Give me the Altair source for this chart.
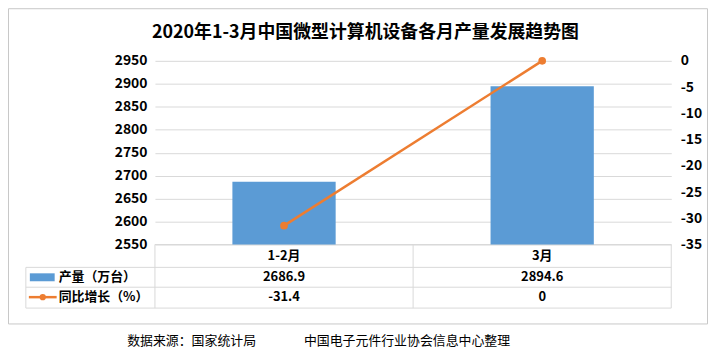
import altair as alt
import pandas as pd

cats = ["1-2月", "3月"]
output = [2686.9, 2894.6]
yoy = [-31.4, 0.0]
output_text = ["2686.9", "2894.6"]
yoy_text = ["-31.4", "0"]
left_ticks = [2550, 2600, 2650, 2700, 2750, 2800, 2850, 2900, 2950]
right_ticks = [-35, -30, -25, -20, -15, -10, -5, 0]
series_names = ["产量（万台）", "同比增长（%）"]
title_text = "2020年1-3月中国微型计算机设备各月产量发展趋势图"
source_1 = "数据来源：国家统计局"
source_2 = "中国电子元件行业协会信息中心整理"

df = pd.DataFrame({"cat": cats, "output": output, "yoy": yoy,
                   "out_t": output_text, "yoy_t": yoy_text})

FONT = "Noto Sans CJK SC"
BLUE = "#5B9BD5"
ORANGE = "#ED7D31"
GRID = "#D9D9D9"
BORDER = "#C8C8C8"
W, H = 520, 185

xenc = alt.X("cat:N", sort=cats,
             scale=alt.Scale(paddingInner=0.6, paddingOuter=0.3), axis=None)
yl_scale = alt.Scale(domain=[2550, 2950], nice=False, zero=False)
yr_scale = alt.Scale(domain=[-35, 0], nice=False, zero=False)

base = alt.Chart(df)

bars = base.mark_bar(color=BLUE).encode(
    x=xenc,
    y=alt.Y("output:Q", scale=yl_scale,
            axis=alt.Axis(values=left_ticks, format="d", grid=True, gridColor=GRID,
                          ticks=False, domain=False, labelFontSize=14,
                          labelFontWeight="bold", labelPadding=8, title=None,
                          labelFont=FONT, labelColor="#000")),
    y2=alt.datum(2550),
)

line = base.mark_line(color=ORANGE, strokeWidth=2.5).encode(
    x=xenc,
    y=alt.Y("yoy:Q", scale=yr_scale,
            axis=alt.Axis(orient="right", values=right_ticks, labelExpr="'' + datum.value",
                          grid=False, ticks=False, domain=False, labelFontSize=14,
                          labelFontWeight="bold", labelPadding=9, title=None,
                          labelFont=FONT, labelColor="#000")),
)
points = base.mark_point(filled=True, color=ORANGE, size=60, opacity=1).encode(
    x=xenc, y=alt.Y("yoy:Q", scale=yr_scale, axis=None))

txt = dict(font=FONT, fontSize=13, fontWeight="bold", color="#000")
hdr = base.mark_text(**txt).encode(x=xenc, y=alt.value(197), text="cat:N")
row1 = base.mark_text(**txt).encode(x=xenc, y=alt.value(218), text="out_t:N")
row2 = base.mark_text(**txt).encode(x=xenc, y=alt.value(238), text="yoy_t:N")

one = alt.Data(values=[{"k": 1}])


def label(t, x, y, **kw):
    return alt.Chart(one).mark_text(text=t, **kw).encode(x=alt.value(x), y=alt.value(y))


lab1 = label(series_names[0], -97, 218, align="left", **txt)
lab2 = label(series_names[1], -97, 238, align="left", **txt)

sym_rect = alt.Chart(one).mark_rect(color=BLUE).encode(
    x=alt.value(-126), x2=alt.value(-101), y=alt.value(214), y2=alt.value(222))
sym_line = alt.Chart(one).mark_rule(color=ORANGE, strokeWidth=2.5).encode(
    x=alt.value(-127), x2=alt.value(-99), y=alt.value(238))
sym_dot = alt.Chart(one).mark_point(filled=True, color=ORANGE, size=40, opacity=1).encode(
    x=alt.value(-113), y=alt.value(238))

segs = [
    (0, W, H, H), (-130, W, 208, 208), (-130, W, 228, 228), (-130, W, 249, 249),
    (-130, -130, 208, 249), (0, 0, H, 249), (260, 260, H, 249), (W, W, H, 249),
]
rules = [alt.Chart(one).mark_rule(color=GRID, strokeWidth=1).encode(
    x=alt.value(a), x2=alt.value(b), y=alt.value(c), y2=alt.value(d)) for a, b, c, d in segs]

# outer frame as four rules
frame_segs = [
    (-147.5, 556.5, -52.5, -52.5), (-147.5, 556.5, 265, 265),
    (-147.5, -147.5, -52.5, 265), (556.5, 556.5, -52.5, 265),
]
frame = [alt.Chart(one).mark_rule(color=BORDER, strokeWidth=1).encode(
    x=alt.value(a), x2=alt.value(b), y=alt.value(c), y2=alt.value(d)) for a, b, c, d in frame_segs]

title = label(title_text, 212, -28, font=FONT, fontSize=18, fontWeight="bold", color="#000")
src1 = label(source_1, -28, 282, align="left", font=FONT, fontSize=13, color="#000")
src2 = label(source_2, 150, 282, align="left", font=FONT, fontSize=13, color="#000")

main = alt.layer(bars, line, points).resolve_scale(y="independent")

chart = alt.layer(
    *frame, *rules, main, hdr, row1, row2, lab1, lab2, sym_rect, sym_line, sym_dot,
    title, src1, src2,
).resolve_scale(y="independent").properties(
    width=W, height=H,
    padding={"left": 148, "top": 52, "right": 37, "bottom": 104},
    autosize=alt.AutoSizeParams(type="none"),
).configure_view(stroke=None)

chart.save("out.html", embed_options={"renderer": "svg", "actions": False})
